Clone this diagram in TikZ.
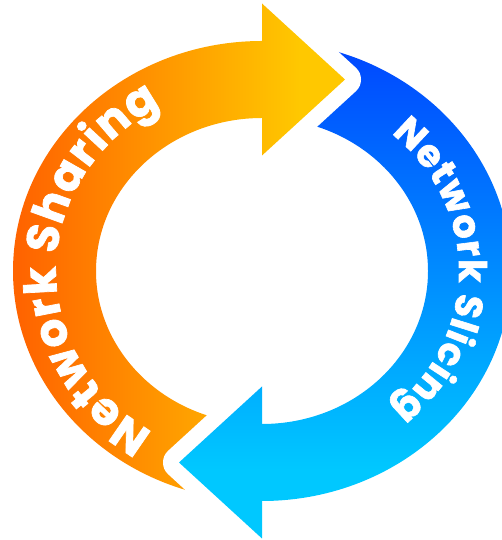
\documentclass[tikz,border=0pt]{standalone}
\usepackage{fontspec}
\newfontfamily\popfont{Poppins}[BoldFeatures={FakeBold=1.6}]
\usetikzlibrary{decorations.text,calc}
\definecolor{orA}{HTML}{FF6400}
\definecolor{orB}{HTML}{FFC800}
\definecolor{blA}{HTML}{0048FF}
\definecolor{blB}{HTML}{00C8FF}
\newcommand\orangepaint{%
  \fill[orA] (-10,-10) rectangle (20,550);
  \shade[left color=orA,right color=orB] (20,-10) rectangle (300,550);
  \fill[orB] (300,-10) rectangle (520,550);}
\newcommand\bluepaint{%
  \fill[blA] (-10,490) rectangle (520,550);
  \shade[top color=blA,bottom color=blB] (-10,70) rectangle (520,490);
  \fill[blB] (-10,-10) rectangle (520,70);}
\tikzset{
  gapline/.style={draw=white,line width=32pt,line join=round},
  ringtext/.style 2 args={decorate,decoration={text along path,text align=fit to path,text={|\popfont\bfseries\fontsize{#1}{#1}\selectfont\color{white}|#2}}}
}
\begin{document}
\begin{tikzpicture}[x=1pt,y=1pt]
\useasboundingbox (0,0) rectangle (502,540);
\clip (0,0) rectangle (502,540);
\coordinate (C) at (262,269);
% arrowhead corners
\coordinate (OT) at (345,460.5);
\coordinate (OU) at (262,536.5);
\coordinate (OL) at (262,384.5);
\coordinate (BT) at (179,77.5);
\coordinate (BU) at (262,153.5);
\coordinate (BL) at (262,1.5);
% orange shaft
\begin{scope}
\clip ($(C)+(90:249pt and 230pt)$) arc[start angle=90,end angle=265,x radius=249pt,y radius=230pt]
  -- ($(C)+(265:166pt and 153pt)$) arc[start angle=265,end angle=90,x radius=166pt,y radius=153pt] -- cycle;
\orangepaint
\end{scope}
% blue shaft
\begin{scope}
\clip ($(C)+(85:249pt and 230pt)$) arc[start angle=85,end angle=-90,x radius=249pt,y radius=230pt]
  -- ($(C)+(-90:166pt and 153pt)$) arc[start angle=-90,end angle=85,x radius=166pt,y radius=153pt] -- cycle;
\bluepaint
\end{scope}
% white gaps
\draw[gapline] (OU) -- (OT) -- (OL);
\draw[gapline] (BU) -- (BT) -- (BL);
% heads
\begin{scope}
\clip (OU) -- (OT) -- (OL) -- cycle;
\orangepaint
\end{scope}
\begin{scope}
\clip (BU) -- (BT) -- (BL) -- cycle;
\bluepaint
\end{scope}
% texts
\path[ringtext={45}{Network Sharing}] ($(C)+(238:206pt and 190pt)$)
  arc[start angle=238,end angle=119.5,x radius=206pt,y radius=190pt];
\path[ringtext={38}{Network Slicing}] ($(C)+(49:197pt and 182pt)$)
  arc[start angle=49,end angle=-49,x radius=197pt,y radius=182pt];
\end{tikzpicture}
\end{document}
